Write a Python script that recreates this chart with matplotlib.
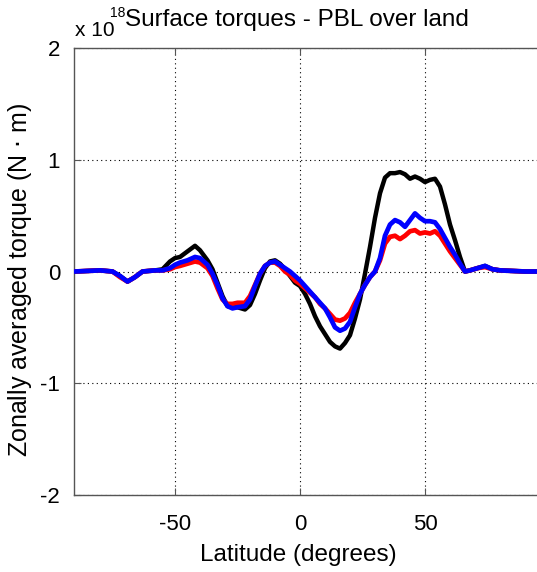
import matplotlib
matplotlib.use("Agg")
import matplotlib.pyplot as plt

plt.rcParams['font.family'] = ['Liberation Sans', 'DejaVu Sans']
plt.rcParams['axes.unicode_minus'] = False

lat = [-90, -80, -75, -72, -69, -66, -63, -58, -55, -52, -50, -48, -45, -42, -40, -37,
       -35, -33, -31, -29, -27, -25, -22, -20, -18, -16, -14, -12, -10, -8, -6, -4, -2,
       0, 2, 4, 6, 8, 10, 12, 14, 16, 18, 20, 22, 24, 26, 28, 30, 32, 34, 36, 38, 40,
       42, 44, 46, 48, 50, 52, 54, 56, 58, 60, 62, 64, 66, 68, 71, 74, 77, 80, 90, 100]

black = [0, 0.01, 0.0, -0.04, -0.09, -0.05, 0.0, 0.01, 0.02, 0.09, 0.12, 0.13, 0.18, 0.23,
         0.19, 0.10, 0.02, -0.10, -0.22, -0.31, -0.32, -0.32, -0.34, -0.30, -0.20, -0.08,
         0.03, 0.09, 0.10, 0.07, 0.02, -0.04, -0.10, -0.13, -0.20, -0.29, -0.40, -0.49,
         -0.56, -0.63, -0.67, -0.69, -0.64, -0.57, -0.42, -0.25, -0.02, 0.22, 0.48, 0.70,
         0.84, 0.88, 0.88, 0.89, 0.87, 0.83, 0.85, 0.83, 0.80, 0.82, 0.83, 0.76, 0.60,
         0.42, 0.28, 0.13, 0.0, 0.01, 0.03, 0.05, 0.02, 0.01, 0.0, 0.0]

red = [0, 0.01, 0.0, -0.05, -0.09, -0.05, 0.0, 0.01, 0.01, 0.02, 0.04, 0.05, 0.07, 0.09,
       0.08, 0.03, -0.04, -0.15, -0.25, -0.29, -0.29, -0.28, -0.28, -0.22, -0.12, -0.02,
       0.05, 0.08, 0.08, 0.05, 0.0, -0.03, -0.08, -0.11, -0.15, -0.19, -0.23, -0.29,
       -0.33, -0.38, -0.43, -0.44, -0.42, -0.37, -0.28, -0.20, -0.12, -0.05, 0.0, 0.10,
       0.25, 0.31, 0.32, 0.29, 0.32, 0.36, 0.37, 0.34, 0.35, 0.34, 0.36, 0.32, 0.25,
       0.18, 0.12, 0.06, 0.0, 0.01, 0.03, 0.04, 0.02, 0.01, 0.0, 0.0]

blue = [0, 0.01, 0.0, -0.04, -0.09, -0.05, 0.0, 0.01, 0.01, 0.03, 0.06, 0.08, 0.10, 0.13,
        0.12, 0.06, -0.02, -0.12, -0.24, -0.31, -0.33, -0.32, -0.31, -0.25, -0.13, -0.02,
        0.05, 0.08, 0.09, 0.06, 0.03, 0.0, -0.04, -0.08, -0.13, -0.18, -0.23, -0.28,
        -0.33, -0.41, -0.50, -0.53, -0.51, -0.45, -0.32, -0.20, -0.12, -0.05, 0.0, 0.12,
        0.32, 0.42, 0.46, 0.44, 0.40, 0.46, 0.52, 0.48, 0.45, 0.45, 0.44, 0.38, 0.30,
        0.22, 0.15, 0.07, 0.0, 0.01, 0.03, 0.05, 0.02, 0.01, 0.0, 0.0]

xticks = [-50, 0, 50]
yticks = [-2, -1, 0, 1, 2]

W, H = 537, 572
fig = plt.figure(figsize=(W / 100, H / 100), dpi=100)
L, R, T, B = 74, 550, 48, 495
ax = fig.add_axes([L / W, 1 - B / H, (R - L) / W, (B - T) / H])

ax.plot(lat, black, color='black', lw=3.2, zorder=3)
ax.plot(lat, red, color='red', lw=3.4, zorder=4)
ax.plot(lat, blue, color='blue', lw=3.4, zorder=5)

ax.set_xlim(-90.4, 100)
ax.set_ylim(-2, 2)
ax.set_xticks(xticks)
ax.set_yticks(yticks)
ax.tick_params(direction='in', length=5, labelsize=16, top=True, right=False,
               color='#555555')
ax.tick_params(axis='x', pad=14)
ax.tick_params(axis='y', pad=10)
ax.grid(True, color='black', linestyle=(0, (1, 3)), linewidth=0.8)
for s in ax.spines.values():
    s.set_color('#555555')
    s.set_linewidth(1.0)

ax.set_xlabel('Latitude (degrees)', fontsize=17.5)
ax.xaxis.set_label_coords((298 - L) / (R - L), -(544 - B) / (B - T))
ax.set_ylabel('Zonally averaged torque (N $\\cdot$ m)', fontsize=18)
ax.yaxis.set_label_coords(-(L - 34) / (R - L), (B - 280) / (B - T))

fig.text(297 / W, 1 - 20 / H, 'Surface torques - PBL over land', fontsize=17.5,
         ha='center', va='center')
fig.text(75 / W, 1 - 31 / H, 'x 10', fontsize=15, ha='left', va='center')
fig.text(110 / W, 1 - 13 / H, '18', fontsize=10, ha='left', va='center')

fig.savefig('out.png', dpi=100)
